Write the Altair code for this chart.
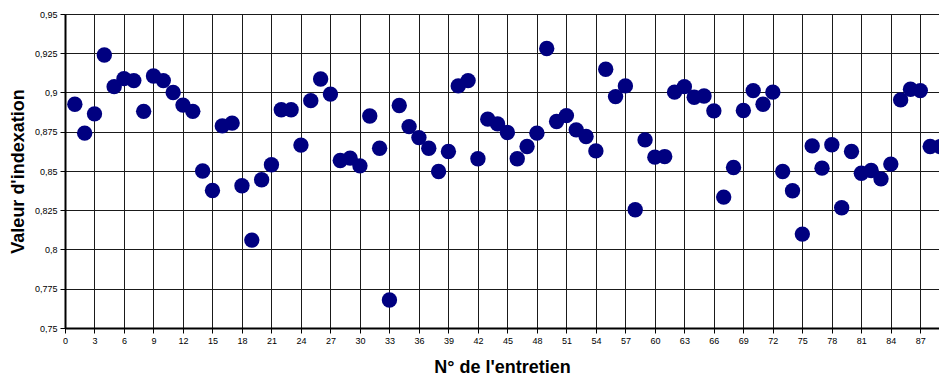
import altair as alt
import pandas as pd

entretien = list(range(1, 91))
valeur = [
    0.8925, 0.8741, 0.8864, 0.9239, 0.9037, 0.9088, 0.9076, 0.888, 0.9105, 0.9076,
    0.900, 0.892, 0.888, 0.850, 0.8376, 0.8787, 0.8805, 0.8406, 0.806, 0.8444,
    0.854, 0.889, 0.889, 0.8665, 0.8948, 0.9086, 0.899, 0.8567, 0.8582, 0.8533,
    0.885, 0.8645, 0.7678, 0.8917, 0.8783, 0.8713, 0.8645, 0.8497, 0.8624, 0.9042,
    0.9076, 0.8578, 0.883, 0.880, 0.8745, 0.8578, 0.8656, 0.8741, 0.928, 0.8815,
    0.8853, 0.8762, 0.872, 0.8628, 0.9148, 0.8974, 0.9042, 0.8253, 0.8698, 0.8588,
    0.8592, 0.9002, 0.9037, 0.897, 0.8978, 0.8883, 0.8334, 0.8522, 0.8885, 0.9012,
    0.8925, 0.9002, 0.8497, 0.8374, 0.8098, 0.866, 0.8518, 0.8667, 0.8266, 0.8624,
    0.8486, 0.8503, 0.845, 0.8544, 0.8953, 0.9021, 0.9012, 0.8656, 0.8656, 0.8476,
]

x_ticks = list(range(0, 91, 3))
y_ticks = [0.75, 0.775, 0.8, 0.825, 0.85, 0.875, 0.9, 0.925, 0.95]

df = pd.DataFrame({"entretien": entretien, "valeur": valeur})

chart = (
    alt.Chart(df)
    .mark_circle(size=236, color="#000080", opacity=1, clip=True)
    .encode(
        x=alt.X(
            "entretien:Q",
            scale=alt.Scale(domain=[0, 88.9], nice=False, zero=False),
            axis=alt.Axis(
                values=x_ticks,
                title="N° de l'entretien",
                titleFont="Liberation Sans",
                titleFontSize=18,
                titleFontWeight="bold",
                titleColor="#000000",
                titlePadding=13,
                labelFont="Liberation Sans",
                labelFontSize=9,
                labelColor="#000000",
                labelPadding=3,
                tickSize=5,
                tickColor="#000000",
                domainColor="#000000",
                domainWidth=2,
                gridColor="#1a1a1a",
                gridWidth=1,
                labelFlush=False,
                labelOverlap=False,
            ),
        ),
        y=alt.Y(
            "valeur:Q",
            scale=alt.Scale(domain=[0.75, 0.95], nice=False, zero=False),
            axis=alt.Axis(
                values=y_ticks,
                labelExpr="replace(toString(datum.value), '.', ',')",
                title="Valeur d'indexation",
                titleFont="Liberation Sans",
                titleFontSize=18,
                titleFontWeight="bold",
                titleColor="#000000",
                titlePadding=7,
                labelFont="Liberation Sans",
                labelFontSize=9,
                labelColor="#000000",
                labelPadding=3,
                tickSize=5,
                tickColor="#000000",
                domainColor="#000000",
                domainWidth=2,
                gridColor="#1a1a1a",
                gridWidth=1,
                labelFlush=False,
                labelOverlap=False,
            ),
        ),
    )
    .properties(
        width=874,
        height=314,
        autosize=alt.AutoSizeParams(type="none"),
        padding={"left": 57, "top": 6, "right": 0, "bottom": 50},
    )
    .configure_view(stroke="#808080", strokeWidth=2)
    .configure(background="#ffffff")
)

chart.save("out.html", embed_options={"renderer": "svg", "actions": False})
